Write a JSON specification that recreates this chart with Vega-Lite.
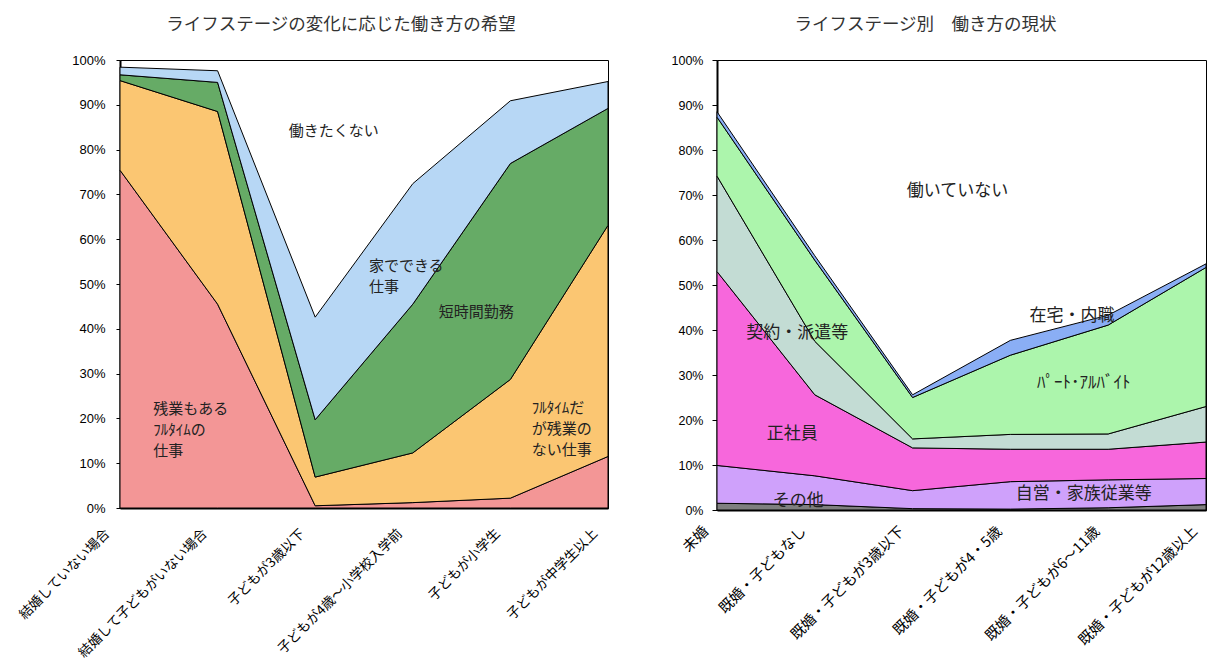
{
  "$schema": "https://vega.github.io/schema/vega-lite/v6.json",
  "background": "white",
  "padding": {"left": 15, "top": 15, "right": 0, "bottom": 0},
  "config": {
    "font": "Noto Sans CJK JP",
    "view": {"stroke": "black", "strokeWidth": 1},
    "axis": {"grid": false, "domainColor": "black", "tickColor": "black", "labelColor": "black", "labelFont": "Noto Sans CJK JP", "title": null},
    "title": {"font": "Noto Sans CJK JP", "fontSize": 17.5, "fontWeight": "normal", "color": "#333333", "anchor": "middle", "frame": "group"}
  },
  "datasets": {
    "hope": [
      {"i": 0, "stage": "結婚していない場合", "series": "残業もあるフルタイムの仕事", "k": 1, "value": 75.4},
      {"i": 0, "stage": "結婚していない場合", "series": "フルタイムだが残業のない仕事", "k": 2, "value": 20.0},
      {"i": 0, "stage": "結婚していない場合", "series": "短時間勤務", "k": 3, "value": 1.3},
      {"i": 0, "stage": "結婚していない場合", "series": "家でできる仕事", "k": 4, "value": 1.7},
      {"i": 1, "stage": "結婚して子どもがいない場合", "series": "残業もあるフルタイムの仕事", "k": 1, "value": 45.5},
      {"i": 1, "stage": "結婚して子どもがいない場合", "series": "フルタイムだが残業のない仕事", "k": 2, "value": 43.0},
      {"i": 1, "stage": "結婚して子どもがいない場合", "series": "短時間勤務", "k": 3, "value": 6.5},
      {"i": 1, "stage": "結婚して子どもがいない場合", "series": "家でできる仕事", "k": 4, "value": 2.6},
      {"i": 2, "stage": "子どもが3歳以下", "series": "残業もあるフルタイムの仕事", "k": 1, "value": 0.5},
      {"i": 2, "stage": "子どもが3歳以下", "series": "フルタイムだが残業のない仕事", "k": 2, "value": 6.4},
      {"i": 2, "stage": "子どもが3歳以下", "series": "短時間勤務", "k": 3, "value": 12.8},
      {"i": 2, "stage": "子どもが3歳以下", "series": "家でできる仕事", "k": 4, "value": 22.9},
      {"i": 3, "stage": "子どもが4歳～小学校入学前", "series": "残業もあるフルタイムの仕事", "k": 1, "value": 1.2},
      {"i": 3, "stage": "子どもが4歳～小学校入学前", "series": "フルタイムだが残業のない仕事", "k": 2, "value": 11.1},
      {"i": 3, "stage": "子どもが4歳～小学校入学前", "series": "短時間勤務", "k": 3, "value": 33.2},
      {"i": 3, "stage": "子どもが4歳～小学校入学前", "series": "家でできる仕事", "k": 4, "value": 26.9},
      {"i": 4, "stage": "子どもが小学生", "series": "残業もあるフルタイムの仕事", "k": 1, "value": 2.2},
      {"i": 4, "stage": "子どもが小学生", "series": "フルタイムだが残業のない仕事", "k": 2, "value": 26.5},
      {"i": 4, "stage": "子どもが小学生", "series": "短時間勤務", "k": 3, "value": 48.2},
      {"i": 4, "stage": "子どもが小学生", "series": "家でできる仕事", "k": 4, "value": 14.0},
      {"i": 5, "stage": "子どもが中学生以上", "series": "残業もあるフルタイムの仕事", "k": 1, "value": 11.5},
      {"i": 5, "stage": "子どもが中学生以上", "series": "フルタイムだが残業のない仕事", "k": 2, "value": 51.6},
      {"i": 5, "stage": "子どもが中学生以上", "series": "短時間勤務", "k": 3, "value": 26.1},
      {"i": 5, "stage": "子どもが中学生以上", "series": "家でできる仕事", "k": 4, "value": 6.0}
    ],
    "hopeCenterLabels": [
      {"x": 2.19, "y": 84.1, "label": "働きたくない"},
      {"x": 3.65, "y": 43.7, "label": "短時間勤務"}
    ],
    "hopeLeftLabels": [
      {"x": 2.55, "y": 54.0, "label": "家でできる\n仕事"},
      {"x": 0.34, "y": 22.0, "label": "残業もある\nﾌﾙﾀｲﾑの\n仕事"},
      {"x": 4.22, "y": 22.4, "label": "ﾌﾙﾀｲﾑだ\nが残業の\nない仕事"}
    ],
    "now": [
      {"i": 0, "stage": "未婚", "series": "その他", "k": 1, "value": 1.5},
      {"i": 0, "stage": "未婚", "series": "自営・家族従業等", "k": 2, "value": 8.4},
      {"i": 0, "stage": "未婚", "series": "正社員", "k": 3, "value": 43.1},
      {"i": 0, "stage": "未婚", "series": "契約・派遣等", "k": 4, "value": 21.2},
      {"i": 0, "stage": "未婚", "series": "パート・アルバイト", "k": 5, "value": 13.1},
      {"i": 0, "stage": "未婚", "series": "在宅・内職", "k": 6, "value": 1.2},
      {"i": 1, "stage": "既婚・子どもなし", "series": "その他", "k": 1, "value": 1.2},
      {"i": 1, "stage": "既婚・子どもなし", "series": "自営・家族従業等", "k": 2, "value": 6.4},
      {"i": 1, "stage": "既婚・子どもなし", "series": "正社員", "k": 3, "value": 18.0},
      {"i": 1, "stage": "既婚・子どもなし", "series": "契約・派遣等", "k": 4, "value": 11.9},
      {"i": 1, "stage": "既婚・子どもなし", "series": "パート・アルバイト", "k": 5, "value": 18.0},
      {"i": 1, "stage": "既婚・子どもなし", "series": "在宅・内職", "k": 6, "value": 1.0},
      {"i": 2, "stage": "既婚・子どもが3歳以下", "series": "その他", "k": 1, "value": 0.3},
      {"i": 2, "stage": "既婚・子どもが3歳以下", "series": "自営・家族従業等", "k": 2, "value": 4.0},
      {"i": 2, "stage": "既婚・子どもが3歳以下", "series": "正社員", "k": 3, "value": 9.5},
      {"i": 2, "stage": "既婚・子どもが3歳以下", "series": "契約・派遣等", "k": 4, "value": 2.0},
      {"i": 2, "stage": "既婚・子どもが3歳以下", "series": "パート・アルバイト", "k": 5, "value": 9.2},
      {"i": 2, "stage": "既婚・子どもが3歳以下", "series": "在宅・内職", "k": 6, "value": 0.6},
      {"i": 3, "stage": "既婚・子どもが4・5歳", "series": "その他", "k": 1, "value": 0.2},
      {"i": 3, "stage": "既婚・子どもが4・5歳", "series": "自営・家族従業等", "k": 2, "value": 6.1},
      {"i": 3, "stage": "既婚・子どもが4・5歳", "series": "正社員", "k": 3, "value": 7.2},
      {"i": 3, "stage": "既婚・子どもが4・5歳", "series": "契約・派遣等", "k": 4, "value": 3.3},
      {"i": 3, "stage": "既婚・子どもが4・5歳", "series": "パート・アルバイト", "k": 5, "value": 17.6},
      {"i": 3, "stage": "既婚・子どもが4・5歳", "series": "在宅・内職", "k": 6, "value": 3.3},
      {"i": 4, "stage": "既婚・子どもが6～11歳", "series": "その他", "k": 1, "value": 0.5},
      {"i": 4, "stage": "既婚・子どもが6～11歳", "series": "自営・家族従業等", "k": 2, "value": 6.2},
      {"i": 4, "stage": "既婚・子どもが6～11歳", "series": "正社員", "k": 3, "value": 6.8},
      {"i": 4, "stage": "既婚・子どもが6～11歳", "series": "契約・派遣等", "k": 4, "value": 3.4},
      {"i": 4, "stage": "既婚・子どもが6～11歳", "series": "パート・アルバイト", "k": 5, "value": 24.2},
      {"i": 4, "stage": "既婚・子どもが6～11歳", "series": "在宅・内職", "k": 6, "value": 2.2},
      {"i": 5, "stage": "既婚・子どもが12歳以上", "series": "その他", "k": 1, "value": 1.2},
      {"i": 5, "stage": "既婚・子どもが12歳以上", "series": "自営・家族従業等", "k": 2, "value": 5.8},
      {"i": 5, "stage": "既婚・子どもが12歳以上", "series": "正社員", "k": 3, "value": 8.1},
      {"i": 5, "stage": "既婚・子どもが12歳以上", "series": "契約・派遣等", "k": 4, "value": 7.9},
      {"i": 5, "stage": "既婚・子どもが12歳以上", "series": "パート・アルバイト", "k": 5, "value": 30.9},
      {"i": 5, "stage": "既婚・子どもが12歳以上", "series": "在宅・内職", "k": 6, "value": 0.8}
    ],
    "nowLabels": [
      {"x": 2.46, "y": 70.9, "label": "働いていない"},
      {"x": 3.63, "y": 43.1, "label": "在宅・内職"},
      {"x": 3.75, "y": 28.2, "label": "ﾊﾟｰﾄ･ｱﾙﾊﾞｲﾄ"},
      {"x": 0.82, "y": 39.4, "label": "契約・派遣等"},
      {"x": 0.77, "y": 17.0, "label": "正社員"},
      {"x": 3.75, "y": 3.5, "label": "自営・家族従業等"},
      {"x": 0.83, "y": 2.0, "label": "その他"}
    ]
  },
  "spacing": 59,
  "resolve": {"scale": {"x": "independent", "y": "independent", "color": "independent"}},
  "hconcat": [
    {
      "width": 488,
      "height": 448,
      "title": {"text": "ライフステージの変化に応じた働き方の希望", "dx": -23, "offset": 21},
      "layer": [
        {
          "data": {"name": "hope"},
          "mark": {"type": "area", "stroke": "black", "strokeWidth": 1},
          "encoding": {
            "x": {"field": "i", "type": "quantitative", "scale": {"domain": [0, 5], "nice": false},
              "axis": {"values": [0, 1, 2, 3, 4, 5], "labelExpr": "['結婚していない場合','結婚して子どもがいない場合','子どもが3歳以下','子どもが4歳～小学校入学前','子どもが小学生','子どもが中学生以上'][datum.value]",
                "labelAngle": -45, "labelAlign": "right", "labelBaseline": "middle", "labelFontSize": 13.5, "labelPadding": 28, "labelOffset": -13, "labelFlush": false, "labelOverlap": false, "labelBound": false, "tickSize": -5, "domainWidth": 2}},
            "y": {"field": "value", "type": "quantitative", "stack": "zero", "scale": {"domain": [0, 100], "nice": false},
              "axis": {"values": [0, 10, 20, 30, 40, 50, 60, 70, 80, 90, 100], "labelExpr": "datum.value + '%'", "labelFont": "Liberation Sans", "labelFontSize": 13, "labelFlush": false, "tickSize": 4, "labelPadding": 11, "domainWidth": 2}},
            "color": {"field": "series", "type": "nominal", "legend": null,
              "scale": {"domain": ["残業もあるフルタイムの仕事", "フルタイムだが残業のない仕事", "短時間勤務", "家でできる仕事"], "range": ["#f39696", "#fbc672", "#66ab66", "#b7d7f5"]}},
            "order": {"field": "k", "type": "quantitative"}
          }
        },
        {
          "data": {"name": "hopeCenterLabels"},
          "mark": {"type": "text", "fontSize": 15, "align": "center", "baseline": "middle", "fill": "#222222"},
          "encoding": {
            "x": {"field": "x", "type": "quantitative"},
            "y": {"field": "y", "type": "quantitative", "stack": null},
            "text": {"field": "label"}
          }
        },
        {
          "data": {"name": "hopeLeftLabels"},
          "mark": {"type": "text", "fontSize": 15, "align": "left", "baseline": "middle", "lineBreak": "\n", "lineHeight": 21, "fill": "#222222"},
          "encoding": {
            "x": {"field": "x", "type": "quantitative"},
            "y": {"field": "y", "type": "quantitative", "stack": null},
            "text": {"field": "label"}
          }
        }
      ]
    },
    {
      "width": 489,
      "height": 450,
      "title": {"text": "ライフステージ別　働き方の現状", "dx": -36, "offset": 21},
      "layer": [
        {
          "data": {"name": "now"},
          "mark": {"type": "area", "stroke": "black", "strokeWidth": 1},
          "encoding": {
            "x": {"field": "i", "type": "quantitative", "scale": {"domain": [0, 5], "nice": false},
              "axis": {"values": [0, 1, 2, 3, 4, 5], "labelExpr": "['未婚','既婚・子どもなし','既婚・子どもが3歳以下','既婚・子どもが4・5歳','既婚・子どもが6～11歳','既婚・子どもが12歳以上'][datum.value]",
                "labelAngle": -45, "labelAlign": "right", "labelBaseline": "middle", "labelFontSize": 14.5, "labelPadding": 24, "labelOffset": -11, "labelFlush": false, "labelOverlap": false, "labelBound": false, "tickSize": -5, "domainWidth": 2}},
            "y": {"field": "value", "type": "quantitative", "stack": "zero", "scale": {"domain": [0, 100], "nice": false},
              "axis": {"values": [0, 10, 20, 30, 40, 50, 60, 70, 80, 90, 100], "labelExpr": "datum.value + '%'", "labelFont": "Liberation Sans", "labelFontSize": 12.5, "labelFlush": false, "tickSize": 5, "labelPadding": 9, "domainWidth": 2}},
            "color": {"field": "series", "type": "nominal", "legend": null,
              "scale": {"domain": ["その他", "自営・家族従業等", "正社員", "契約・派遣等", "パート・アルバイト", "在宅・内職"], "range": ["#7f7f7f", "#cfa1fb", "#f767dc", "#c3dcd4", "#acf5ac", "#8aaef5"]}},
            "order": {"field": "k", "type": "quantitative"}
          }
        },
        {
          "data": {"name": "nowLabels"},
          "mark": {"type": "text", "fontSize": 17, "align": "center", "baseline": "middle", "fill": "#222222"},
          "encoding": {
            "x": {"field": "x", "type": "quantitative"},
            "y": {"field": "y", "type": "quantitative", "stack": null},
            "text": {"field": "label"}
          }
        }
      ]
    }
  ]
}
